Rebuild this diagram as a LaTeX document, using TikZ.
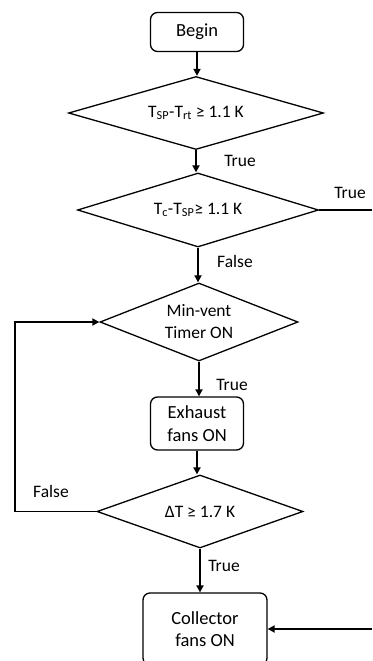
\documentclass[tikz,border=0pt]{standalone}
\usepackage{fontspec}
\setmainfont{Carlito}
\usetikzlibrary{shapes.geometric,arrows.meta}
\begin{document}
\begin{tikzpicture}[x=1pt,y=-1pt,
  every node/.style={font=\fontsize{17.5}{21}\selectfont},
  boxnode/.style={draw, line width=1.3pt, rounded corners=7pt, align=center, inner sep=0pt,
    font=\fontsize{18.5}{22.5}\selectfont},
  decision/.style={draw, shape=diamond, line width=1.3pt, inner sep=0pt, align=center,
    font=\fontsize{17.5}{22}\selectfont},
  lbl/.style={inner sep=0pt, font=\fontsize{17.5}{21}\selectfont},
  flow/.style={line width=1.8pt, -{Triangle[length=7pt,width=7pt]}},
  plain/.style={line width=1.8pt}
]
\useasboundingbox (0,0) rectangle (372,661);
\clip (0,0) rectangle (372,661);

\node[boxnode, minimum width=93pt, minimum height=39pt] (begin) at (197,32) {Begin};
\node[decision, minimum width=255pt, minimum height=73pt, aspect=3.5] (d1) at (196,113)
  {T\textsubscript{SP}-T\textsubscript{rt} ≥ 1.1 K};
\node[decision, minimum width=241pt, minimum height=74pt, aspect=3.26] (d2) at (198,210)
  {T\textsubscript{c}-T\textsubscript{SP}≥ 1.1 K};
\node[decision, minimum width=198pt, minimum height=78pt, aspect=2.54] (d3) at (199,322)
  {Min-vent\\Timer ON};
\node[boxnode, minimum width=93pt, minimum height=53pt] (exh) at (197,423.5)
  {Exhaust\\fans ON};
\node[decision, minimum width=206pt, minimum height=73pt, aspect=2.82] (d4) at (200,511.5)
  {ΔT ≥ 1.7 K};
\node[boxnode, minimum width=124pt, minimum height=72pt] (coll) at (205,629)
  {Collector\\fans ON};

\coordinate (rtop) at (372,210);
\coordinate (rbot) at (372,629);
\coordinate (lbot) at (15,511.5);
\coordinate (ltop) at (15,322);

\draw[flow] (begin.south) -- (begin.south |- d1.north);
\draw[flow] (d1.south) -- (d1.south |- d2.north);
\draw[flow] (d2.south) -- (d2.south |- d3.north);
\draw[flow] (d3.south) -- (d3.south |- exh.north);
\draw[flow] (exh.south) -- (exh.south |- d4.north);
\draw[flow] (d4.south) -- (d4.south |- coll.north);
\draw[plain] (d2.east) -- (rtop);
\draw[flow] (rbot) -- (coll.east);
\draw[flow] (d4.west) -- (lbot) -- (ltop) -- (d3.west);

\node[lbl] (t1) at (240,161) {True};
\node[lbl] (t2) at (350,193) {True};
\node[lbl] (f1) at (235,261) {False};
\node[lbl] (t3) at (232,385) {True};
\node[lbl] (f2) at (51,491) {False};
\node[lbl] (t4) at (224,566) {True};
\end{tikzpicture}
\end{document}
